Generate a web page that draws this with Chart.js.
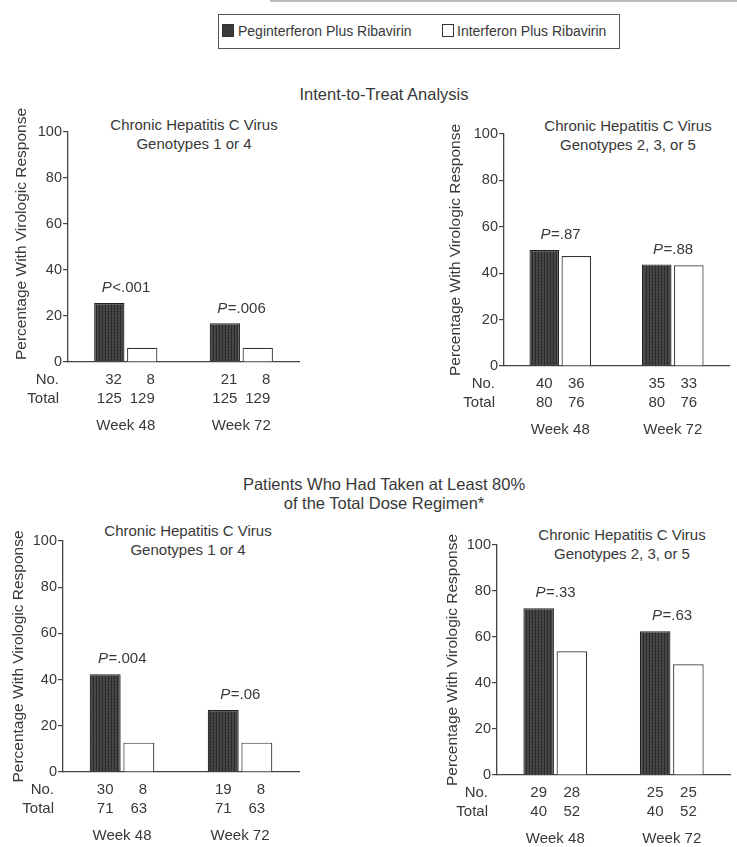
<!DOCTYPE html>
<html>
<head>
<meta charset="utf-8">
<script src="https://cdn.jsdelivr.net/npm/chart.js@4.4.1/dist/chart.umd.min.js"></script>
<style>
  body { margin: 0; background: #fff; overflow: hidden; }
  #page { position: relative; width: 737px; height: 847px; overflow: hidden; font-family: "Liberation Sans", Arial, sans-serif; color: #383838; }
  .abs { position: absolute; }
  .ttl { position: absolute; width: 340px; text-align: center; font-size: 15px; line-height: 19px; white-space: nowrap; }
  .legend { position: absolute; left: 218px; top: 14px; width: 402px; height: 35px; border: 1px solid #555; box-sizing: border-box; font-size: 14px; }
  .sw { position: absolute; top: 9px; width: 12px; height: 13px; box-sizing: border-box; border: 1px solid #333; }
  .lt { position: absolute; top: 8px; line-height: 16px; white-space: nowrap; }
  canvas { position: absolute; }
</style>
</head>
<body>
<div id="page">
  <div class="abs" style="left:270px;top:0;width:467px;height:2px;background:#bbb"></div>
  <div class="legend">
    <div class="sw" style="left:3px;background:#3a3a3a"></div>
    <div class="lt" style="left:19px" id="leg0"></div>
    <div class="sw" style="left:223px;background:#fff"></div>
    <div class="lt" style="left:238px" id="leg1"></div>
  </div>
  <div class="ttl" style="left:214px;top:85px;font-size:16.5px">Intent-to-Treat Analysis</div>
  <div class="ttl" style="left:214px;top:475px;font-size:16.5px">Patients Who Had Taken at Least 80%<br>of the Total Dose Regimen*</div>

  <div class="ttl" style="left:24px;top:115px">Chronic Hepatitis C Virus<br>Genotypes 1 or 4</div>
  <div class="ttl" style="left:458px;top:116px">Chronic Hepatitis C Virus<br>Genotypes 2, 3, or 5</div>
  <div class="ttl" style="left:18px;top:521px">Chronic Hepatitis C Virus<br>Genotypes 1 or 4</div>
  <div class="ttl" style="left:452px;top:525px">Chronic Hepatitis C Virus<br>Genotypes 2, 3, or 5</div>

  <canvas id="c1"></canvas>
  <canvas id="c2"></canvas>
  <canvas id="c3"></canvas>
  <canvas id="c4"></canvas>
</div>
<script>
// ---- data ----
const weeks = ["Week 48", "Week 72"];
const seriesNames = ["Peginterferon Plus Ribavirin", "Interferon Plus Ribavirin"];
const yTitle = "Percentage With Virologic Response";
const yTicks = [0, 20, 40, 60, 80, 100];

// intent-to-treat, genotypes 1 or 4
const itt14Peg = [25.6, 16.8];
const itt14Ifn = [6.2, 6.2];
const itt14PegNo = [32, 21];
const itt14IfnNo = [8, 8];
const itt14PegTotal = [125, 125];
const itt14IfnTotal = [129, 129];
const itt14P = ["<.001", "=.006"];

// intent-to-treat, genotypes 2, 3, or 5
const itt235Peg = [50.0, 43.8];
const itt235Ifn = [47.4, 43.4];
const itt235PegNo = [40, 35];
const itt235IfnNo = [36, 33];
const itt235PegTotal = [80, 80];
const itt235IfnTotal = [76, 76];
const itt235P = ["=.87", "=.88"];

// >= 80% dose, genotypes 1 or 4
const adh14Peg = [42.3, 26.8];
const adh14Ifn = [12.7, 12.7];
const adh14PegNo = [30, 19];
const adh14IfnNo = [8, 8];
const adh14PegTotal = [71, 71];
const adh14IfnTotal = [63, 63];
const adh14P = ["=.004", "=.06"];

// >= 80% dose, genotypes 2, 3, or 5
const adh235Peg = [72.5, 62.5];
const adh235Ifn = [53.8, 48.1];
const adh235PegNo = [29, 25];
const adh235IfnNo = [28, 25];
const adh235PegTotal = [40, 40];
const adh235IfnTotal = [52, 52];
const adh235P = ["=.33", "=.63"];

const INK = "#383838";
const FAMILY = '"Liberation Sans", Arial, sans-serif';

document.getElementById("leg0").textContent = seriesNames[0];
document.getElementById("leg1").textContent = seriesNames[1];

function darkPattern() {
  const c = document.createElement("canvas");
  c.width = 3; c.height = 3;
  const g = c.getContext("2d");
  g.fillStyle = "#484848"; g.fillRect(0, 0, 3, 3);
  g.fillStyle = "#2b2b2b"; g.fillRect(0, 0, 1, 3);
  g.fillStyle = "#3a3a3a"; g.fillRect(2, 1, 1, 1);
  return g.createPattern(c, "repeat");
}

// y title, text under bars and P values above each pair
const annotPlugin = {
  id: "annot",
  afterDraw(chart, args, o) {
    const ctx = chart.ctx;
    const xs = chart.scales.x, ys = chart.scales.y;
    const area = chart.chartArea;
    const base = ys.getPixelForValue(0);
    ctx.save();
    ctx.fillStyle = INK;
    ctx.textBaseline = "middle";

    ctx.save();
    ctx.font = "15.5px " + FAMILY;
    ctx.translate(o.titleX, (area.top + area.bottom) / 2 + o.titleShift);
    ctx.rotate(-Math.PI / 2);
    ctx.textAlign = "center";
    ctx.fillText(yTitle, 0, 0);
    ctx.restore();

    ctx.font = "15px " + FAMILY;
    ctx.textAlign = "right";
    ctx.fillText("No.", area.left - 9, base + 18);
    ctx.fillText("Total", area.left - 9, base + 37);
    o.counts.forEach((arr, d) => {
      const meta = chart.getDatasetMeta(d);
      meta.data.forEach((bar, i) => {
        const a = String(arr[i]), b = String(o.totals[d][i]);
        const w = Math.max(ctx.measureText(a).width, ctx.measureText(b).width);
        ctx.fillText(a, bar.x + w / 2, base + 18);
        ctx.fillText(b, bar.x + w / 2, base + 37);
      });
    });
    ctx.textAlign = "left";
    o.p.forEach((txt, i) => {
      const cx = xs.getPixelForValue(i);
      const top = Math.min(...chart.data.datasets.map((_, d) => chart.getDatasetMeta(d).data[i].y));
      const y = top - 15;
      ctx.font = "italic 15px " + FAMILY;
      const wP = ctx.measureText("P").width;
      ctx.font = "15px " + FAMILY;
      const wR = ctx.measureText(txt).width;
      const x0 = cx - (wP + wR) / 2;
      ctx.font = "italic 15px " + FAMILY;
      ctx.fillText("P", x0, y);
      ctx.font = "15px " + FAMILY;
      ctx.fillText(txt, x0 + wP + 0.5, y);
    });
    ctx.restore();
  }
};

function makePanel(id, box, peg, ifn, pegNo, ifnNo, pegTot, ifnTot, pVals) {
  const cv = document.getElementById(id);
  cv.width = box.w; cv.height = box.h;
  cv.style.left = box.x + "px"; cv.style.top = box.y + "px";
  const barOpts = { barPercentage: 0.92, categoryPercentage: 0.57, borderWidth: 1.2, borderSkipped: "bottom" };
  return new Chart(cv.getContext("2d"), {
    type: "bar",
    data: {
      labels: weeks,
      datasets: [
        Object.assign({ label: seriesNames[0], data: peg, backgroundColor: darkPattern(), borderColor: "#222" }, barOpts),
        Object.assign({ label: seriesNames[1], data: ifn, backgroundColor: "#fff", borderColor: "#333" }, barOpts),
      ],
    },
    options: {
      responsive: false,
      animation: false,
      devicePixelRatio: 1,
      layout: { padding: { left: 0, top: box.top - box.y, right: box.x + box.w - box.right, bottom: 0 } },
      plugins: {
        legend: { display: false },
        tooltip: { enabled: false },
        annot: {
          counts: [pegNo, ifnNo], totals: [pegTot, ifnTot], p: pVals,
          titleX: box.titleX - box.x, titleShift: box.titleShift,
        },
      },
      scales: {
        x: {
          offset: true,
          grid: { display: false, drawTicks: false },
          border: { display: true, color: "#444", width: 1.3 },
          ticks: { color: INK, font: { size: 15, family: FAMILY }, padding: 55 },
          afterFit(s) { s.height = box.y + box.h - box.bottom; },
        },
        y: {
          min: 0, max: 100,
          afterBuildTicks(s) { s.ticks = yTicks.map((v) => ({ value: v })); },
          ticks: { color: INK, font: { size: 14.5, family: FAMILY }, padding: 1 },
          grid: { drawOnChartArea: false, drawTicks: true, tickLength: 5, color: "#444", lineWidth: 1.2 },
          border: { color: "#444", width: 1.3 },
          title: { display: false },
          afterFit(s) { s.width = box.left - box.x; },
        },
      },
    },
    plugins: [annotPlugin],
  });
}

makePanel("c1", { x: 0, y: 100, w: 330, h: 340, left: 68, top: 132, bottom: 362, right: 313, titleX: 22, titleShift: -13 },
  itt14Peg, itt14Ifn, itt14PegNo, itt14IfnNo, itt14PegTotal, itt14IfnTotal, itt14P);
makePanel("c2", { x: 430, y: 100, w: 330, h: 340, left: 504, top: 134, bottom: 366, right: 749, titleX: 456, titleShift: 0 },
  itt235Peg, itt235Ifn, itt235PegNo, itt235IfnNo, itt235PegTotal, itt235IfnTotal, itt235P);
makePanel("c3", { x: 0, y: 470, w: 330, h: 377, left: 63, top: 541, bottom: 772, right: 308, titleX: 19, titleShift: 0 },
  adh14Peg, adh14Ifn, adh14PegNo, adh14IfnNo, adh14PegTotal, adh14IfnTotal, adh14P);
makePanel("c4", { x: 430, y: 470, w: 330, h: 377, left: 497, top: 545, bottom: 775, right: 745, titleX: 453, titleShift: 0 },
  adh235Peg, adh235Ifn, adh235PegNo, adh235IfnNo, adh235PegTotal, adh235IfnTotal, adh235P);
</script>
</body>
</html>
